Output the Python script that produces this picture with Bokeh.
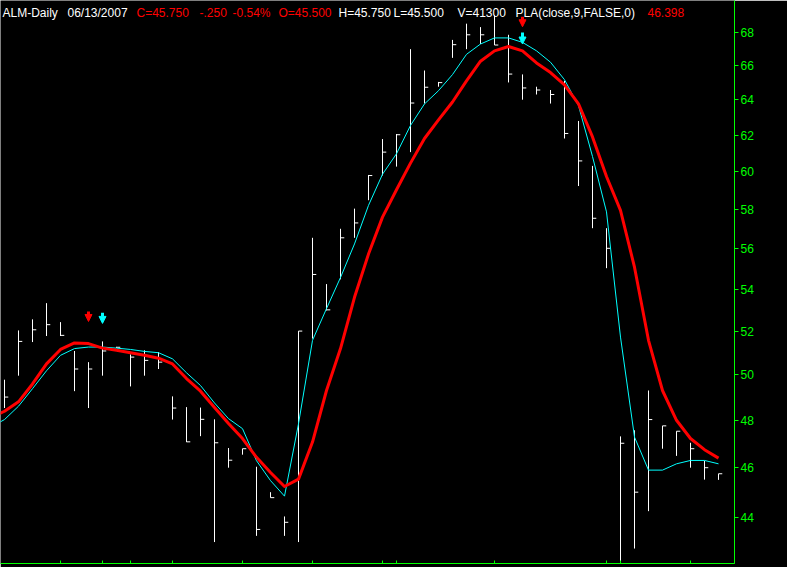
from bokeh.plotting import figure
from bokeh.models import Range1d, FixedTicker, Label, Arrow, NormalHead, ColumnDataSource
from bokeh.embed import file_html
from bokeh.resources import INLINE

# ---------------- data ----------------
bars = list(range(52))
highs = [49.78, 52.03, 52.55, 53.32, 52.42, 51.08, 50.57, 51.52, 51.27, 50.92,
         51.11, 51.03, 49.04, 48.57, 48.55, 48.04, 46.82, 46.79, 46.04, 45.00,
         44.03, 52.00, 56.54, 54.24, 57.00, 58.04, 59.82, 61.78, 62.06, 66.97,
         65.70, 65.03, 67.53, 68.52, 68.31, 69.04, 67.84, 65.47, 64.75, 64.56,
         65.09, 62.79, 60.31, 57.03, 47.31, 47.57, 49.30, 47.76, 47.53, 47.04,
         46.29, 45.75]
lows = [48.53, 49.96, 51.49, 51.77, 51.77, 49.27, 48.53, 49.96, 51.22, 49.48,
        49.96, 50.26, 48.03, 47.07, 47.32, 43.03, 46.00, 46.54, 43.27, 44.78,
        43.27, 43.03, 51.65, 52.97, 54.47, 56.54, 58.48, 59.79, 60.27, 61.06,
        63.78, 64.75, 66.45, 66.97, 67.28, 67.22, 65.00, 64.00, 64.30, 63.78,
        61.81, 59.23, 57.03, 55.02, 42.20, 42.78, 44.24, 46.79, 46.49, 46.00,
        45.51, 45.50]
closes = [49.01, 51.52, 52.06, 52.30, 51.80, 50.26, 50.26, 51.08, 51.25, 50.80,
          50.65, 50.57, 48.53, 47.08, 48.04, 47.04, 46.31, 46.79, 43.52, 44.78,
          43.80, 52.00, 54.71, 53.00, 56.54, 57.30, 59.79, 61.06, 62.02, 63.81,
          64.72, 64.99, 67.24, 67.84, 67.84, 67.22, 65.49, 64.68, 64.56, 64.30,
          62.09, 60.58, 57.54, 56.01, 47.02, 45.00, 48.03, 47.76, 47.53, 46.79,
          46.00, 45.75]

line_bars = list(range(-1, 52))
pla_red = [48.10, 48.39, 48.80, 49.59, 50.49, 51.15, 51.45, 51.42, 51.21, 51.11,
           51.00, 50.88, 50.75, 50.49, 49.83, 49.27, 48.55, 47.86, 47.22, 46.43,
           45.80, 45.23, 45.53, 47.07, 49.30, 51.19, 53.60, 55.72, 57.60, 59.03,
           60.46, 61.81, 62.85, 63.87, 65.09, 66.25, 66.87, 67.13, 66.87, 66.15,
           65.58, 64.86, 63.76, 61.90, 59.74, 57.95, 55.07, 51.57, 49.30, 48.00,
           47.22, 46.75, 46.398]
fast_cyan = [47.70, 48.03, 48.61, 49.38, 50.18, 50.88, 51.19, 51.26, 51.26, 51.21,
             51.15, 51.06, 51.00, 50.72, 50.09, 49.52, 48.75, 48.07, 47.64, 46.29,
             45.47, 44.84, 47.85, 51.57, 53.06, 54.56, 56.23, 58.21, 59.86, 60.97,
             62.54, 63.76, 64.52, 65.46, 66.66, 67.28, 67.65, 67.65, 67.38, 66.87,
             66.19, 65.16, 63.66, 60.82, 57.87, 51.72, 47.28, 45.90, 45.90, 46.16,
             46.30, 46.30, 46.16]

red_arrow_bar = [6, 37]
red_arrow_top = [52.92, 68.95]
red_arrow_tip = [52.45, 68.33]
cyan_arrow_bar = [7, 37]
cyan_arrow_top = [52.86, 67.98]
cyan_arrow_tip = [52.36, 67.28]

y_ticks = [44, 46, 48, 50, 52, 54, 56, 58, 60, 62, 64, 66, 68]
y_tick_labels = [str(t) for t in y_ticks]
x_tick_bars = [4, 7, 9, 12, 17, 22, 27, 28, 35, 43, 44, 49]

header_texts = ["ALM-Daily", "06/13/2007", "C=45.750", "-.250", "-0.54%", "O=45.500",
                "H=45.750", "L=45.500", "V=41300", "PLA(close,9,FALSE,0)", "46.398"]
header_colors = ["white", "white", "red", "red", "red", "red",
                 "white", "white", "white", "white", "red"]
header_x = [2, 67, 136, 199, 232, 278, 338, 393, 457, 515, 647]

# ---------------- figure ----------------
W, H = 787, 567
Y_TOP, Y_BOTTOM = 69.96, 42.21
p = figure(width=W, height=H, y_axis_type="log", y_axis_location="right",
           x_range=Range1d(-4.0 / 14, 730.0 / 14), y_range=Range1d(Y_BOTTOM, Y_TOP),
           output_backend="svg", toolbar_location=None,
           background_fill_color="black", border_fill_color="black",
           min_border_left=0, min_border_top=0, min_border_right=53,
           min_border_bottom=4)
p.outline_line_color = None
p.grid.visible = False

GREEN = "#00ff00"
ya = p.yaxis[0]
ya.ticker = FixedTicker(ticks=y_ticks, minor_ticks=[])
ya.major_label_overrides = {t: l for t, l in zip(y_ticks, y_tick_labels)}
ya.axis_line_color = GREEN
ya.axis_line_width = 1
ya.major_tick_line_color = GREEN
ya.major_tick_out = 4
ya.major_tick_in = 0
ya.minor_tick_line_color = None
ya.major_label_text_color = GREEN
ya.major_label_text_font = "Liberation Sans"
ya.major_label_text_font_size = "12px"
ya.major_label_standoff = 2

xa = p.xaxis[0]
xa.ticker = FixedTicker(ticks=x_tick_bars, minor_ticks=[])
xa.axis_line_color = GREEN
xa.major_tick_line_color = GREEN
xa.major_tick_in = 3
xa.major_tick_out = 0
xa.minor_tick_line_color = None
xa.major_label_text_color = None
xa.major_label_text_font_size = "0px"
xa.major_label_standoff = 0

# HLC bars
tick_len = 0.27
src = ColumnDataSource(dict(x=bars, h=highs, l=lows, c=closes,
                            xr=[b + tick_len for b in bars]))
p.segment(x0="x", y0="l", x1="x", y1="h", source=src, line_color="white", line_width=1)
p.segment(x0="x", y0="c", x1="xr", y1="c", source=src, line_color="white", line_width=1)

# indicator lines
p.line(line_bars, fast_cyan, line_color="#00ffff", line_width=1)
p.line(line_bars, pla_red, line_color="#ff0000", line_width=3, line_join="round")

# signal arrows
for xs, tops, tips, col in [(red_arrow_bar, red_arrow_top, red_arrow_tip, "#ff0000"),
                            (cyan_arrow_bar, cyan_arrow_top, cyan_arrow_tip, "#00ffff")]:
    asrc = ColumnDataSource(dict(x=xs, y0=tops, y1=tips))
    p.add_layout(Arrow(x_start="x", y_start="y0", x_end="x", y_end="y1", source=asrc,
                       line_color=col, line_width=3,
                       end=NormalHead(size=7, fill_color=col, line_color=col, line_width=1)))

# header
for t, c, x in zip(header_texts, header_colors, header_x):
    p.add_layout(Label(x=x, y=Y_TOP, x_units="screen", y_units="data", text=t,
                       text_color=c, text_font="Liberation Sans", text_font_size="12px",
                       text_baseline="alphabetic", y_offset=-12))

open("out.html", "w").write(file_html(p, INLINE))
